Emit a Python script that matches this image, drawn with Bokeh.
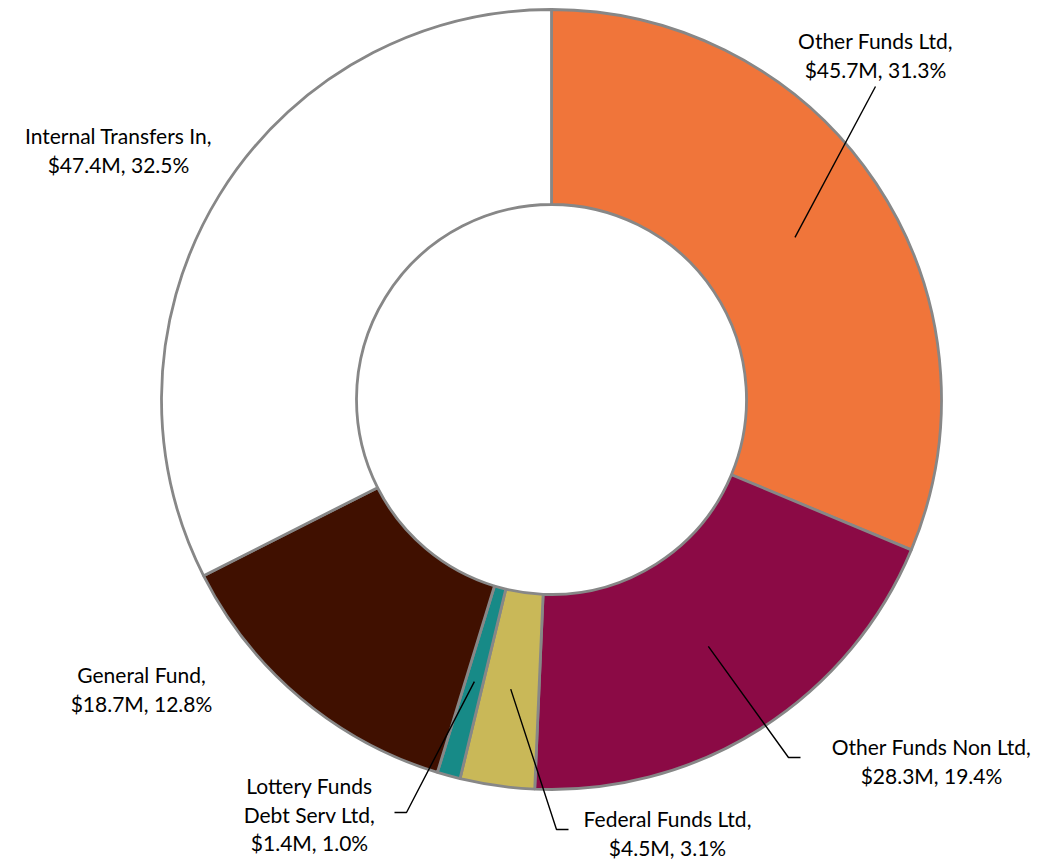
import numpy as np
from bokeh.plotting import figure
from bokeh.models import Range1d, ColumnDataSource
from bokeh.core.properties import value
from bokeh.embed import file_html
from bokeh.resources import INLINE

# ---- data ----
categories = ["Other Funds Ltd", "Other Funds Non Ltd", "Federal Funds Ltd",
              "Lottery Funds Debt Serv Ltd", "General Fund", "Internal Transfers In"]
amounts_m = [45.7, 28.3, 4.5, 1.4, 18.7, 47.4]
percents = [31.3, 19.4, 3.1, 1.0, 12.8, 32.5]
colors = ["#F0753A", "#8B0A45", "#C9B858", "#178A87", "#401000", "#FFFFFF"]

# ---- layout (reference pixel coords; data y = 860 - ref y) ----
W, H = 1055, 860
CX, CY = 551, 860 - 399
R_OUT, R_IN = 390, 195

p = figure(width=W, height=H, output_backend="svg", toolbar_location=None,
           x_range=Range1d(0, W), y_range=Range1d(0, H),
           min_border=0, outline_line_color=None)
p.axis.visible = False
p.grid.visible = False
p.background_fill_color = "white"
p.border_fill_color = "white"

vals = np.array(amounts_m, dtype=float)
frac = vals / vals.sum()
cum = np.concatenate([[0], np.cumsum(frac)])
start = np.pi / 2 - 2 * np.pi * cum[:-1]
end = np.pi / 2 - 2 * np.pi * cum[1:]
mid = (start + end) / 2

src = ColumnDataSource(dict(start=start, end=end, color=colors))
p.annular_wedge(x=CX, y=CY, inner_radius=R_IN, outer_radius=R_OUT,
                start_angle="start", end_angle="end", direction="clock",
                fill_color="color", line_color="#878787", line_width=2.8,
                source=src)

def lab_lines(i):
    name = categories[i]
    tail = f"${amounts_m[i]:.1f}M, {percents[i]:.1f}%"
    if name == "Lottery Funds Debt Serv Ltd":
        return ["Lottery Funds", "Debt Serv Ltd,", tail]
    return [name + ",", tail]

label_pos = {0: (875, 40), 1: (931, 746), 2: (667, 818),
             3: (309, 785), 4: (141, 674), 5: (118, 135)}
leader = {0: [(875, 86)],
          1: [(788, 757), (800, 757)],
          2: [(556, 829), (568, 829)],
          3: [(406, 812), (394, 812)]}
LINE_H = 28.5

for i in range(len(categories)):
    lx, ly = label_pos[i]
    lines = lab_lines(i)
    xs = [lx] * len(lines)
    ys = [860 - (ly + k * LINE_H) for k in range(len(lines))]
    p.text(x=xs, y=ys, text=lines, text_align="center", text_baseline="middle",
           text_font=value("Lato"), text_font_size="21px", text_color="#000000")
    if i in leader:
        r = 0.75 * R_OUT
        px0 = CX + r * np.cos(mid[i])
        py0 = CY + r * np.sin(mid[i])
        pts = [(px0, py0)] + [(a, 860 - b) for a, b in leader[i]]
        p.line(x=[q[0] for q in pts], y=[q[1] for q in pts],
               line_color="black", line_width=1.4)

open("out.html", "w").write(file_html(p, INLINE))
